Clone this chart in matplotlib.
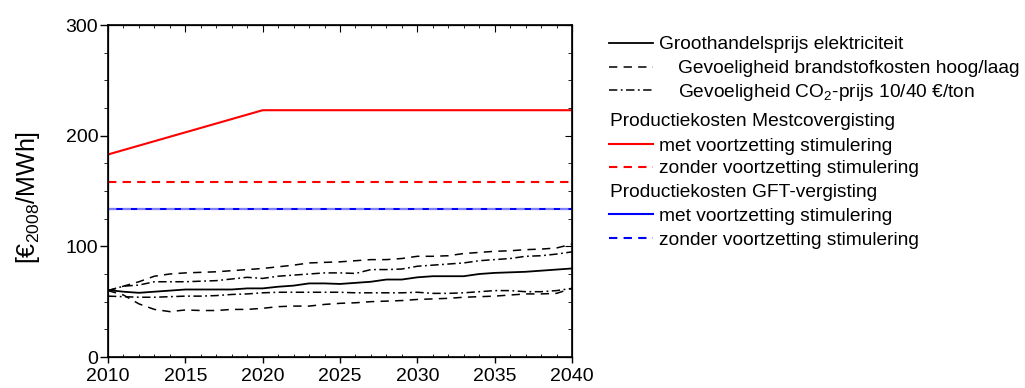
import matplotlib
matplotlib.use("Agg")
import matplotlib.pyplot as plt
from matplotlib.lines import Line2D
from matplotlib.ticker import MultipleLocator

plt.rcParams["font.family"] = ["Liberation Sans", "DejaVu Sans"]
plt.rcParams["mathtext.fontset"] = "custom"
plt.rcParams["mathtext.rm"] = "Liberation Sans"
plt.rcParams["mathtext.it"] = "Liberation Sans:italic"
plt.rcParams["lines.scale_dashes"] = False

# data
years = [2010, 2011, 2012, 2013, 2014, 2015, 2016, 2017, 2018, 2019, 2020,
         2021, 2022, 2023, 2024, 2025, 2026, 2027, 2028, 2029, 2030,
         2031, 2032, 2033, 2034, 2035, 2036, 2037, 2038, 2039, 2040]
groothandel = [60.5, 59, 58, 59, 60, 61, 61, 61, 61, 62, 62,
               63.5, 64.5, 66.5, 66.5, 66, 67, 68, 70, 70, 72,
               73, 73, 73, 75, 76, 76.5, 77, 78, 79, 80]
brandstof_hoog = [60, 64, 68, 73, 75, 76, 76.5, 77, 78, 79, 80,
                  81.5, 83, 85, 85.5, 86, 87, 88, 88, 89, 91,
                  91, 91.5, 93.5, 94.5, 95.5, 96, 97, 97.5, 98.5, 102]
brandstof_laag = [60, 56, 48, 43, 41, 42.5, 42, 42, 43, 43, 44,
                  45.5, 46, 46, 47.5, 48.5, 49, 50, 50.5, 51, 52,
                  52.5, 53, 54, 54.5, 55, 56, 57, 57, 57.5, 62]
co2_hoog = [60, 64, 65, 68, 68, 68, 68.5, 69, 70.5, 72, 71,
            73, 74, 75, 76, 76, 75.5, 79, 79, 79.5, 82,
            83, 84, 85, 87, 88, 89, 91, 91.5, 93, 95]
co2_laag = [55, 54.5, 54, 54, 54.5, 55, 55, 55.5, 56.5, 57, 58,
            58.5, 58.5, 58.5, 58.5, 58.5, 58, 58, 58, 58, 58.5,
            57.5, 57.5, 58, 59, 60, 60, 59, 59, 60, 62]
mest_met_years = [2010, 2020, 2040]
mest_met = [183, 223, 223]
mest_zonder = [158, 158]
gft_met = [134, 134]
gft_zonder = [134, 134]
span = [2010, 2040]

fig = plt.figure(figsize=(10.25, 3.88), dpi=100)
ax = fig.add_axes([108 / 1025, 1 - 357 / 388, 464 / 1025, 332 / 388])

blk = dict(color="black", lw=1.1)
ax.plot(years, groothandel, color="black", lw=1.3)
ax.plot(years, brandstof_hoog, dashes=(6, 4.5), **blk)
ax.plot(years, brandstof_laag, dashes=(6, 4.5), **blk)
ax.plot(years, co2_hoog, dashes=(6, 2.5, 1.3, 2.5), **blk)
ax.plot(years, co2_laag, dashes=(6, 2.5, 1.3, 2.5), **blk)
ax.plot(mest_met_years, mest_met, color="#ff0000", lw=1.5)
ax.plot(span, mest_zonder, color="#ff0000", lw=1.5, dashes=(6, 4.5))
ax.plot(span, gft_met, color="#0000ff", lw=1.5)
ax.plot(span, gft_zonder, color="#7f7fff", lw=1.5, dashes=(6, 4.5))

ax.set_xlim(2010, 2040)
ax.set_ylim(0, 300)
ax.xaxis.set_major_locator(MultipleLocator(5))
ax.xaxis.set_minor_locator(MultipleLocator(1))
ax.yaxis.set_major_locator(MultipleLocator(100))
ax.yaxis.set_minor_locator(MultipleLocator(25))
ax.tick_params(labelsize=14, width=1)
ax.tick_params(axis="x", which="major", direction="out", length=4.5, pad=3.5)
ax.tick_params(axis="x", which="minor", direction="in", length=2.5)
ax.tick_params(axis="y", which="major", direction="out", length=5.5, pad=1.5)
ax.tick_params(axis="y", which="minor", direction="out", length=3)
for s in ax.spines.values():
    s.set_linewidth(1.2)

# inward ticks on top and right
axr = ax.twinx()
axr.set_ylim(0, 300)
axr.yaxis.set_major_locator(MultipleLocator(100))
axr.yaxis.set_minor_locator(MultipleLocator(25))
axr.tick_params(axis="y", which="both", direction="in", labelright=False)
axr.tick_params(axis="y", which="major", length=5)
axr.tick_params(axis="y", which="minor", length=3)
axt = ax.twiny()
axt.set_xlim(2010, 2040)
axt.xaxis.set_major_locator(MultipleLocator(5))
axt.xaxis.set_minor_locator(MultipleLocator(1))
axt.tick_params(axis="x", which="both", direction="in", labeltop=False)
axt.tick_params(axis="x", which="major", length=5)
axt.tick_params(axis="x", which="minor", length=2.5)

fig.text(28 / 1025, 1 - 197 / 388, r"[€$_{\mathregular{2008}}$/MWh]",
         rotation=90, ha="center", va="center", fontsize=18)

# legend
def px(x, y):
    return x / 1025, 1 - y / 388

rows = [
    (42.7, 49.3, 659, dict(color="black", lw=1.3), "Groothandelsprijs elektriciteit"),
    (66.7, 73.3, 678, dict(color="black", lw=1.1, dashes=(6, 4.5)),
     "Gevoeligheid brandstofkosten hoog/laag"),
    (90.0, 96.7, 678, dict(color="black", lw=1.1, dashes=(6, 2.5, 1.3, 2.5)),
     r"Gevoeligheid CO$_{\mathregular{2}}$-prijs 10/40 €/ton"),
    (None, 126.0, 610, None, "Productiekosten Mestcovergisting"),
    (144.3, 151.0, 659, dict(color="#ff0000", lw=1.5), "met voortzetting stimulering"),
    (166.7, 173.3, 659, dict(color="#ff0000", lw=1.5, dashes=(6, 4.5)),
     "zonder voortzetting stimulering"),
    (None, 196.7, 610, None, "Productiekosten GFT-vergisting"),
    (214.3, 221.0, 659, dict(color="#0000ff", lw=1.5), "met voortzetting stimulering"),
    (238.3, 245.0, 659, dict(color="#0000ff", lw=1.5, dashes=(6, 4.5)),
     "zonder voortzetting stimulering"),
]
for ly, by, tx, style, label in rows:
    if style is not None:
        x0, y0 = px(609, ly)
        x1, _ = px(653, ly)
        fig.add_artist(Line2D([x0, x1], [y0, y0], transform=fig.transFigure, **style))
    fig.text(*px(tx, by), label, fontsize=13.8, ha="left", va="baseline")

plt.savefig("out.png", dpi=100)
